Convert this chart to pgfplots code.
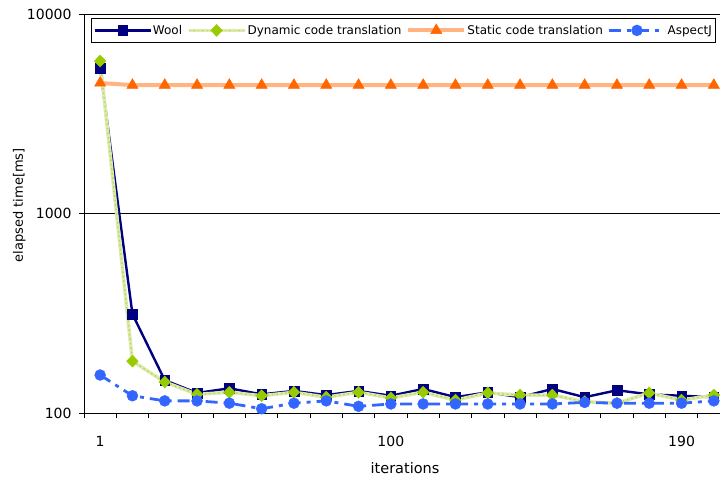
\documentclass[border=0pt]{standalone}
\usepackage{fontspec}
\setmainfont{DejaVu Sans}
\usepackage{pgfplots}
\pgfplotsset{compat=1.18}
\definecolor{wool}{HTML}{000080}
\definecolor{dynm}{HTML}{99CC00}
\definecolor{dynl}{HTML}{DCEAB0}
\definecolor{statl}{HTML}{FFB482}
\definecolor{statm}{HTML}{FF6600}
\definecolor{asp}{HTML}{3366FF}
\begin{document}
\begin{tikzpicture}
\begin{axis}[
  at={(84bp,69bp)}, anchor=south west,
  scale only axis, width=646bp, height=399bp,
  xmin=-0.5, xmax=19.5, ymode=log, ymin=100, ymax=10000,
  axis lines*=left, axis line style={line width=0.8bp, black},
  ytick={100,1000,10000}, yticklabels={100,1000,10000},
  yminorticks=false,
  ymajorgrids, grid style={black, line width=0.8bp},
  xtick={-0.5,0.5,...,19.5}, xticklabels={},
  extra x ticks={0,9,18}, extra x tick labels={1,100,190},
  extra x tick style={major tick length=0pt},
  tick align=outside, major tick length=5bp,
  tick style={black, line width=0.8bp},
  ticklabel style={font=\fontsize{14bp}{16bp}\selectfont},
  yticklabel style={xshift=-4bp},
  xticklabel style={anchor=center, yshift=-28bp},
  /pgf/number format/assume math mode=true,
  xlabel={iterations},
  xlabel style={at={(axis description cs:0.497,-0.138)}, anchor=center, font=\fontsize{14.5bp}{17bp}\selectfont},
  ylabel={elapsed time[ms]},
  ylabel style={at={(axis description cs:-0.1,0.521)}, anchor=center, font=\fontsize{13bp}{15bp}\selectfont},
  legend columns=4,
  legend style={at={(rel axis cs:0.0108,0.9907)}, anchor=north west, draw=black, line width=0.8bp,
    font=\fontsize{12bp}{14bp}\selectfont, inner xsep=2bp, inner ysep=3.5bp,
    nodes={inner xsep=1.2bp, inner ysep=3.5bp},
    /tikz/every even column/.append style={column sep=3.5bp}},
  legend image code/.code={\draw[mark repeat=2,mark phase=2,#1] plot coordinates {(0bp,0bp) (28bp,0bp) (56bp,0bp)};},
]
\addplot[wool, line width=2.4bp, mark=square*, mark size=4.8bp, mark options={fill=wool, draw=wool, line width=0.4bp}]
coordinates {(0,5360) (1,313) (2,146) (3,126) (4,133) (5,124) (6,129) (7,123) (8,129) (9,122)
 (10,132) (11,120) (12,127) (13,120) (14,132) (15,120) (16,130) (17,124) (18,122) (19,120)};
\addlegendentry{Wool}
\addplot[dynl, line width=3.5bp, postaction={draw=dynm!70, line width=1.4bp, dash pattern=on 1.5bp off 3bp},
  mark=diamond*, mark size=6bp, mark options={fill=dynm, draw=dynm, xscale=1.3, line width=0.4bp, solid}]
coordinates {(0,5810) (1,182) (2,143) (3,124) (4,127) (5,122) (6,127) (7,120) (8,127) (9,119)
 (10,127) (11,116) (12,126) (13,123) (14,123) (15,114) (16,112) (17,126) (18,116) (19,123)};
\addlegendentry{Dynamic code translation}
\addplot[statl, line width=4bp, mark=triangle*, mark size=6.5bp, mark options={fill=statm, draw=statm, line width=0.4bp}]
coordinates {(0,4510) (1,4400) (2,4400) (3,4400) (4,4400) (5,4400) (6,4400) (7,4400) (8,4400) (9,4400)
 (10,4400) (11,4400) (12,4400) (13,4400) (14,4400) (15,4400) (16,4400) (17,4400) (18,4400) (19,4400)};
\addlegendentry{Static code translation}
\addplot[asp, line width=2.8bp, dash pattern=on 12bp off 6bp on 4bp off 6bp, mark=*, mark size=5.5bp, mark options={fill=asp, draw=asp, solid, line width=0.4bp}]
coordinates {(0,155) (1,122) (2,115) (3,115) (4,112) (5,105) (6,112) (7,115) (8,108) (9,111)
 (10,111) (11,111) (12,111) (13,111) (14,111) (15,113) (16,112) (17,112) (18,112) (19,115)};
\addlegendentry{AspectJ}
\end{axis}
\pgfresetboundingbox
\useasboundingbox (0,0) rectangle (720bp,482bp);
\end{tikzpicture}
\end{document}
